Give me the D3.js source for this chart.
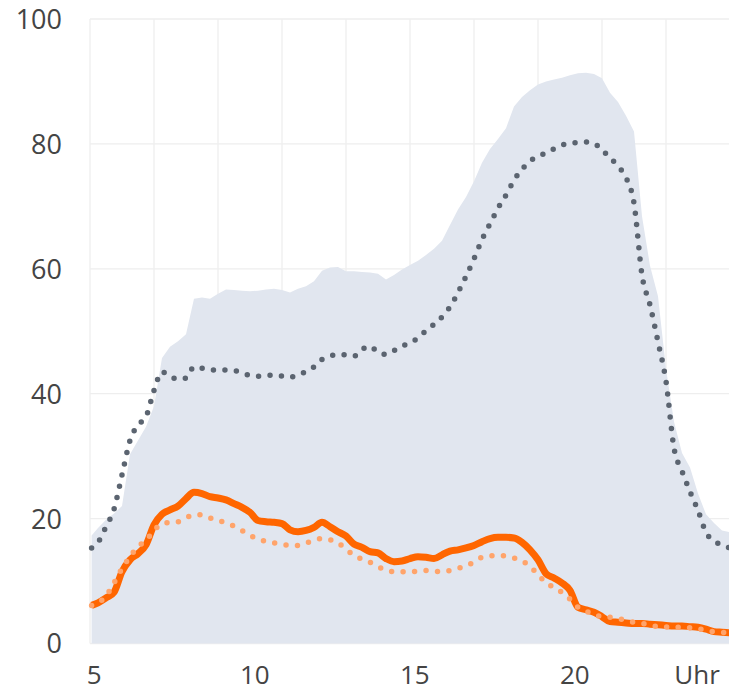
<!DOCTYPE html>
<html>
<head>
<meta charset="utf-8">
<script src="https://cdn.jsdelivr.net/npm/d3@7"></script>
<style>
  html, body { margin: 0; padding: 0; background: #fff; }
  text { font-family: "Open Sans", sans-serif; fill: #444; }
</style>
</head>
<body>
<div id="chart"></div>
<script>
// hour of day
const hours = [5.05, 5.25, 5.5, 5.75, 6, 6.25, 6.5, 6.75, 7, 7.25, 7.5, 7.75,
  8, 8.25, 8.5, 8.75, 9, 9.25, 9.5, 9.75, 10, 10.25, 10.5, 10.75,
  11, 11.25, 11.5, 11.75, 12, 12.25, 12.5, 12.75, 13, 13.25, 13.5, 13.75,
  14, 14.25, 14.5, 14.75, 15, 15.25, 15.5, 15.75, 16, 16.25, 16.5, 16.75,
  17, 17.25, 17.5, 17.75, 18, 18.25, 18.5, 18.75, 19, 19.25, 19.5, 19.75,
  20, 20.25, 20.5, 20.75, 21, 21.25, 21.5, 21.75, 22, 22.25, 22.5, 22.75,
  23, 23.25, 23.5, 23.75, 24, 24.25, 24.5, 24.75, 25];

// grey band (upper edge)
const bandMax = [17.3, 18.5, 19.8, 20.8, 22, 30.3, 32.5, 34.7, 38, 45.7, 47.5, 48.4,
  49.5, 55.2, 55.4, 55.2, 56, 56.7, 56.6, 56.5, 56.4, 56.5, 56.7, 56.8,
  56.6, 56.2, 56.8, 57.2, 58, 59.7, 60.2, 60.3, 59.6, 59.6, 59.5, 59.4,
  59.2, 58.3, 59, 59.9, 60.6, 61.3, 62.2, 63.2, 64.5, 67, 69.5, 71.5,
  74, 77, 79.2, 80.8, 82.5, 86, 87.5, 88.6, 89.5, 90, 90.3, 90.6,
  91, 91.3, 91.4, 91.2, 90.5, 88.2, 86.7, 84.5, 82, 68.4, 60.5, 55.6,
  44, 35.5, 30.5, 28.2, 24, 20.7, 19.3, 18.1, 17.8];

// grey dotted line
const typical = [15.3, 16.2, 18.7, 21.5, 27, 32.5, 35, 36.3, 40.5, 43.5, 42.8, 42.3,
  42.5, 44.3, 44.1, 43.8, 43.8, 43.8, 43.7, 43.4, 42.9, 42.8, 42.9, 43,
  42.8, 42.6, 43.1, 43.5, 44.3, 45.5, 46, 46.3, 46.2, 46, 47.1, 47.6,
  46.6, 46.3, 46.9, 47.6, 48.2, 48.9, 50.1, 51.1, 52.3, 53.9, 56.2, 58.8,
  61.6, 64.7, 67.2, 69.7, 71.8, 74.2, 75.9, 77.3, 77.9, 78.6, 79.2, 79.8,
  80.1, 80.2, 80.3, 80.1, 79, 77.8, 76.4, 74.6, 70.5, 59, 54.2, 48.3,
  42, 31.3, 27.6, 24.3, 21.3, 17.8, 16.4, 15.8, 15.3];

// orange solid line
const current = [6.1, 6.5, 7.3, 8.2, 11.5, 13.4, 14.4, 15.8, 19, 20.7, 21.4, 22,
  23.2, 24.2, 24, 23.5, 23.3, 23, 22.4, 21.8, 21, 19.7, 19.5, 19.4,
  19.2, 18.2, 17.9, 18.1, 18.6, 19.4, 18.7, 17.9, 17.2, 15.9, 15.4, 14.7,
  14.5, 13.6, 13.1, 13.2, 13.6, 13.9, 13.8, 13.6, 14.2, 14.8, 15, 15.3,
  15.7, 16.3, 16.8, 17, 17, 16.9, 16.2, 15, 13.4, 11.2, 10.5, 9.7,
  8.5, 5.8, 5.4, 5, 4.3, 3.5, 3.4, 3.3, 3.2, 3.2, 3.1, 3,
  2.9, 2.8, 2.8, 2.7, 2.6, 2.3, 1.9, 1.8, 1.7];

// light orange dotted line
const expected = [6.1, 6.5, 7.6, 9.7, 12, 13.9, 15.5, 16.5, 18.1, 19.2, 19.4, 19.5,
  20.1, 20.6, 20.6, 20.1, 19.7, 19.3, 18.8, 18.1, 17.3, 16.8, 16.3, 16.1,
  15.9, 15.7, 15.7, 16.1, 16.5, 16.8, 16.6, 16.1, 15.1, 14.1, 13.5, 13,
  12.3, 11.8, 11.5, 11.5, 11.5, 11.6, 11.7, 11.6, 11.5, 11.7, 12, 12.5,
  13, 13.8, 14, 14.1, 14, 13.7, 13.2, 12.4, 11, 9.8, 8.9, 8.2,
  7.1, 5.8, 5.2, 4.6, 4.3, 4.2, 4, 3.7, 3.4, 3.2, 3, 2.7,
  2.65, 2.6, 2.6, 2.5, 2.4, 2, 1.9, 1.8, 1.7];

const yTicks = [0, 20, 40, 60, 80, 100];
const xGrid = [5, 7, 9, 11, 13, 15, 17, 19, 21, 23];
const xTickPos = [5.13, 10.15, 15.15, 20.15, 23.97];
const xTickLabels = ["5", "10", "15", "20", "Uhr"];

const width = 729, height = 692;

const x = d3.scaleLinear().domain([5, 25]).range([90, 730]);
const y = d3.scaleLinear().domain([0, 100]).range([643.5, 19]);

const svg = d3.select("#chart").append("svg")
  .attr("width", width)
  .attr("height", height);

// grid
svg.append("g").selectAll("line")
  .data(yTicks)
  .enter().append("line")
  .attr("x1", x(5)).attr("x2", width)
  .attr("y1", d => y(d)).attr("y2", d => y(d))
  .attr("stroke", "#eeeeee").attr("stroke-width", 1.3);

svg.append("g").selectAll("line")
  .data(xGrid)
  .enter().append("line")
  .attr("x1", d => x(d)).attr("x2", d => x(d))
  .attr("y1", y(0)).attr("y2", y(100))
  .attr("stroke", "#eeeeee").attr("stroke-width", 1.3);

// band
const area = d3.area()
  .x((d, i) => x(hours[i]))
  .y0(y(0))
  .y1(d => y(d));

svg.append("path")
  .datum(bandMax)
  .attr("d", area)
  .attr("fill", "#e1e6ef");

const line = d3.line()
  .x((d, i) => x(hours[i]))
  .y(d => y(d))
  .curve(d3.curveMonotoneX);

svg.append("path")
  .datum(typical)
  .attr("d", line)
  .attr("fill", "none")
  .attr("stroke", "#5b6470")
  .attr("stroke-width", 5.5)
  .attr("stroke-linecap", "round")
  .attr("stroke-dasharray", "0 11.5");

svg.append("path")
  .datum(current)
  .attr("d", line)
  .attr("fill", "none")
  .attr("stroke", "#ff6600")
  .attr("stroke-width", 7)
  .attr("stroke-linejoin", "round");

svg.append("path")
  .datum(expected)
  .attr("d", line)
  .attr("fill", "none")
  .attr("stroke", "#ffa46b")
  .attr("stroke-width", 5.5)
  .attr("stroke-linecap", "round")
  .attr("stroke-dasharray", "0 11.5");

// y labels
svg.append("g").selectAll("text")
  .data(yTicks)
  .enter().append("text")
  .attr("x", 62)
  .attr("y", d => y(d))
  .attr("dy", "0.37em")
  .attr("text-anchor", "end")
  .style("font-size", "27px")
  .text(d => d);

// x labels
svg.append("g").selectAll("text")
  .data(xTickPos)
  .enter().append("text")
  .attr("x", d => x(d))
  .attr("y", 684)
  .attr("text-anchor", "middle")
  .style("font-size", "26px")
  .text((d, i) => xTickLabels[i]);
</script>
</body>
</html>
